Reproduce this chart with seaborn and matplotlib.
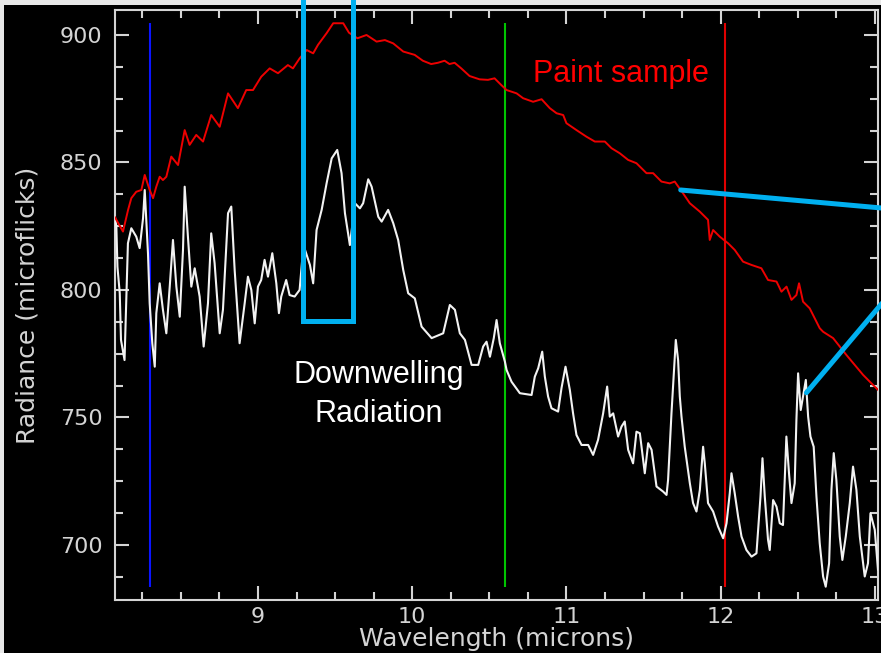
import matplotlib
matplotlib.use("Agg")
import matplotlib.pyplot as plt
from matplotlib.patches import Rectangle
from matplotlib.ticker import MultipleLocator, FixedLocator
import seaborn as sns
import pandas as pd

# ---------------- data ----------------
paint_wl = [8.071, 8.125, 8.158, 8.179, 8.211, 8.244, 8.266, 8.298, 8.320, 8.341,
            8.363, 8.384, 8.406, 8.438, 8.482, 8.525, 8.557, 8.600, 8.644, 8.697,
            8.752, 8.806, 8.870, 8.924, 8.968, 9.021, 9.076, 9.130, 9.194, 9.227,
            9.270, 9.316, 9.358, 9.389, 9.445, 9.488, 9.553, 9.590, 9.645, 9.704,
            9.769, 9.823, 9.877, 9.942, 10.016, 10.069, 10.123, 10.167, 10.210, 10.242,
            10.275, 10.318, 10.372, 10.437, 10.491, 10.534, 10.577, 10.612, 10.677, 10.719,
            10.784, 10.839, 10.892, 10.936, 10.979, 11.000, 11.065, 11.130, 11.184, 11.249,
            11.292, 11.346, 11.400, 11.454, 11.519, 11.562, 11.616, 11.670, 11.702, 11.756,
            11.800, 11.865, 11.918, 11.929, 11.951, 11.994, 12.048, 12.091, 12.145, 12.200,
            12.264, 12.307, 12.362, 12.394, 12.427, 12.459, 12.491, 12.508, 12.534, 12.577,
            12.642, 12.664, 12.729, 12.772, 12.815, 12.869, 12.923, 12.967, 13.020]
paint_rad = [828.7, 822.9, 831.4, 836.0, 838.5, 839.2, 845.1, 839.2, 836.0, 840.5,
             844.4, 843.1, 844.4, 852.3, 849.0, 862.7, 856.9, 860.8, 858.2, 868.6,
             864.0, 877.1, 871.3, 878.4, 878.4, 883.6, 886.9, 885.0, 888.2, 886.9,
             890.8, 894.1, 892.8, 896.1, 900.7, 904.6, 904.6, 900.9, 898.7, 900.0,
             897.4, 898.0, 896.7, 893.5, 892.2, 889.9, 888.6, 889.1, 889.9, 888.6,
             889.1, 886.9, 883.9, 882.6, 882.4, 883.0, 880.4, 878.4, 877.1, 875.2,
             873.8, 874.8, 871.3, 869.3, 868.6, 865.4, 862.7, 860.1, 858.2, 858.2,
             855.6, 853.6, 851.0, 849.7, 845.8, 845.8, 842.5, 841.8, 842.5, 837.9,
             834.0, 830.7, 827.5, 819.6, 823.5, 820.9, 818.3, 815.7, 811.1, 809.8,
             808.5, 803.9, 803.3, 799.3, 801.3, 796.1, 798.0, 802.6, 795.4, 792.8,
             785.0, 783.6, 781.1, 777.8, 774.5, 770.6, 766.7, 764.0, 760.8]

down_wl = [8.073, 8.082, 8.089, 8.104, 8.112, 8.135, 8.157, 8.179, 8.211, 8.233,
           8.255, 8.266, 8.287, 8.298, 8.315, 8.331, 8.341, 8.363, 8.384, 8.406,
           8.428, 8.449, 8.471, 8.493, 8.514, 8.525, 8.546, 8.568, 8.590, 8.622,
           8.648, 8.676, 8.697, 8.719, 8.752, 8.773, 8.806, 8.827, 8.849, 8.881,
           8.914, 8.935, 8.957, 8.979, 9.000, 9.021, 9.043, 9.065, 9.093, 9.119,
           9.136, 9.151, 9.183, 9.205, 9.238, 9.270, 9.295, 9.337, 9.358, 9.380,
           9.413, 9.445, 9.478, 9.514, 9.542, 9.564, 9.596, 9.629, 9.661, 9.682,
           9.715, 9.737, 9.780, 9.802, 9.844, 9.877, 9.909, 9.942, 9.974, 10.017,
           10.061, 10.126, 10.201, 10.244, 10.277, 10.309, 10.342, 10.385, 10.428, 10.460,
           10.482, 10.504, 10.529, 10.547, 10.568, 10.601, 10.612, 10.644, 10.698, 10.774,
           10.795, 10.817, 10.843, 10.860, 10.881, 10.903, 10.946, 10.968, 10.994, 11.022,
           11.043, 11.065, 11.098, 11.141, 11.173, 11.205, 11.238, 11.264, 11.281, 11.303,
           11.335, 11.357, 11.378, 11.400, 11.432, 11.454, 11.476, 11.508, 11.530, 11.552,
           11.584, 11.627, 11.649, 11.659, 11.681, 11.709, 11.724, 11.735, 11.746, 11.767,
           11.800, 11.821, 11.843, 11.865, 11.886, 11.897, 11.918, 11.951, 11.983, 12.016,
           12.038, 12.059, 12.070, 12.091, 12.113, 12.135, 12.167, 12.200, 12.232, 12.242,
           12.258, 12.271, 12.286, 12.307, 12.318, 12.340, 12.362, 12.383, 12.404, 12.426,
           12.443, 12.459, 12.480, 12.491, 12.502, 12.519, 12.534, 12.552, 12.567, 12.582,
           12.603, 12.621, 12.642, 12.664, 12.681, 12.703, 12.718, 12.733, 12.750, 12.772,
           12.789, 12.811, 12.837, 12.858, 12.880, 12.902, 12.934, 12.955, 12.971, 12.999,
           13.020]
down_rad = [828.6, 824.8, 809.1, 798.7, 780.4, 772.5, 818.3, 824.2, 820.9, 816.4,
            828.1, 839.2, 814.4, 794.8, 779.1, 769.9, 790.9, 802.6, 792.2, 783.0,
            801.3, 819.6, 801.3, 789.5, 815.7, 840.5, 820.9, 801.3, 808.5, 797.4,
            777.8, 794.8, 822.2, 810.5, 783.0, 792.2, 830.1, 832.7, 807.8, 779.1,
            794.8, 805.2, 800.0, 786.9, 801.3, 803.9, 811.8, 805.2, 814.4, 802.6,
            790.9, 797.4, 803.9, 798.0, 797.4, 800.0, 817.6, 809.8, 802.6, 823.5,
            831.4, 841.8, 851.6, 854.9, 845.8, 830.1, 817.6, 834.0, 832.0, 834.0,
            843.4, 840.5, 828.7, 826.8, 831.4, 826.2, 819.6, 807.8, 798.7, 796.7,
            785.6, 781.1, 783.0, 794.1, 792.2, 783.0, 780.4, 770.6, 770.6, 777.8,
            779.7, 773.8, 781.1, 788.2, 779.1, 771.9, 768.6, 764.0, 759.5, 758.8,
            766.0, 769.3, 775.8, 766.0, 758.2, 753.6, 752.3, 761.5, 769.9, 760.8,
            751.6, 743.1, 739.2, 739.2, 735.3, 741.2, 751.6, 762.1, 750.3, 751.6,
            742.5, 746.4, 748.4, 737.3, 732.0, 744.4, 743.8, 728.1, 739.9, 737.3,
            722.9, 720.9, 719.6, 725.5, 751.6, 780.4, 772.5, 758.2, 750.3, 738.5,
            724.2, 716.4, 713.1, 721.6, 738.5, 732.0, 716.4, 713.1, 707.2, 702.6,
            708.5, 720.3, 728.1, 720.3, 711.1, 703.3, 698.0, 695.4, 696.7, 705.2,
            718.9, 734.0, 718.9, 702.0, 698.0, 717.6, 715.0, 708.5, 707.8, 742.5,
            728.1, 716.4, 724.2, 749.0, 767.3, 752.9, 758.2, 764.7, 750.3, 742.5,
            738.5, 718.9, 700.7, 687.6, 683.6, 692.8, 721.6, 736.0, 725.5, 703.3,
            694.1, 703.3, 716.4, 730.7, 721.6, 703.3, 687.6, 692.8, 712.4, 705.9,
            690.2]

band_wl = [8.30, 10.60, 12.03]
band_colors = ["#0a14ff", "#00c400", "#e00000"]
band_span = [683.5, 904.7]

x_ticks = [9, 10, 11, 12, 13]
y_ticks = [700, 750, 800, 850, 900]
x_limits = [8.073, 13.02]
y_limits = [678.4, 909.8]

# annotation geometry (data coordinates)
box_x = [9.295, 9.295, 9.619, 9.619]
box_y = [935.0, 788.0, 788.0, 935.0]
call1_x = [11.741, 13.161]
call1_y = [839.2, 831.5]
call2_x = [12.556, 13.161]
call2_y = [759.7, 803.0]

# ---------------- styling ----------------
sns.set_theme(style="dark")
fg = "#d4d4d4"
plt.rcParams["font.family"] = ["DejaVu Sans"]

fig = plt.figure(figsize=(8.81, 6.53), dpi=100, facecolor="black")
ax = fig.add_axes([0.1305, 0.0812, 0.8661, 0.9035])
ax.set_facecolor("black")

paint_df = pd.DataFrame({"wl": paint_wl, "rad": paint_rad})
down_df = pd.DataFrame({"wl": down_wl, "rad": down_rad})

sns.lineplot(data=down_df, x="wl", y="rad", ax=ax, color="#f2f2f2",
             linewidth=1.5, estimator=None, sort=False, zorder=3)
sns.lineplot(data=paint_df, x="wl", y="rad", ax=ax, color="#ee0000",
             linewidth=1.4, estimator=None, sort=False, zorder=3)

for wl, c in zip(band_wl, band_colors):
    ax.vlines(wl, band_span[0], band_span[1], colors=c, linewidth=1.5, zorder=2)

ax.set_xlim(*x_limits)
ax.set_ylim(*y_limits)
ax.xaxis.set_major_locator(FixedLocator(x_ticks))
ax.yaxis.set_major_locator(FixedLocator(y_ticks))
ax.xaxis.set_minor_locator(MultipleLocator(0.25))
ax.yaxis.set_minor_locator(MultipleLocator(12.5))
ax.grid(False)

for sp in ax.spines.values():
    sp.set_visible(True)
    sp.set_color(fg)
    sp.set_linewidth(1.5)

ax.tick_params(which="both", direction="in", top=True, right=True,
               bottom=True, left=True, color=fg, width=1.5,
               labelcolor=fg, labelsize=16)
ax.tick_params(which="major", length=10)
ax.tick_params(which="minor", length=5.5)
ax.tick_params(axis="x", which="major", pad=5)
ax.tick_params(axis="y", which="major", pad=9)

ax.set_xlabel("Wavelength (microns)", color=fg, fontsize=18, labelpad=0)
ax.set_ylabel("Radiance (microflicks)", color=fg, fontsize=18, labelpad=15)

# annotations
cyan = "#00b0f0"
ax.plot(box_x, box_y, color=cyan, linewidth=3.6, clip_on=False,
        solid_joinstyle="miter", zorder=5)
ax.plot(call1_x, call1_y, color=cyan, linewidth=3.6, clip_on=False, zorder=5)
ax.plot(call2_x, call2_y, color=cyan, linewidth=3.6, clip_on=False, zorder=5)

ax.text(11.356, 881.7, "Paint sample", color="#ff0000", fontsize=22,
        family=["Liberation Sans", "DejaVu Sans"], ha="center", va="baseline", zorder=6)
ax.text(9.781, 763.5, "Downwelling", color="white", fontsize=22,
        family=["Liberation Sans", "DejaVu Sans"], ha="center", va="baseline", zorder=6)
ax.text(9.781, 748.2, "Radiation", color="white", fontsize=22,
        family=["Liberation Sans", "DejaVu Sans"], ha="center", va="baseline", zorder=6)

# thin light frame at the top and left edge of the picture
fig.patches.append(Rectangle((0, 1 - 5 / 653), 1, 5 / 653, transform=fig.transFigure,
                             facecolor="#e8e8e8", edgecolor="none", zorder=-1))
fig.patches.append(Rectangle((0, 0), 4 / 881, 1, transform=fig.transFigure,
                             facecolor="#e8e8e8", edgecolor="none", zorder=-1))

fig.savefig("out.png", dpi=100, facecolor="black")
